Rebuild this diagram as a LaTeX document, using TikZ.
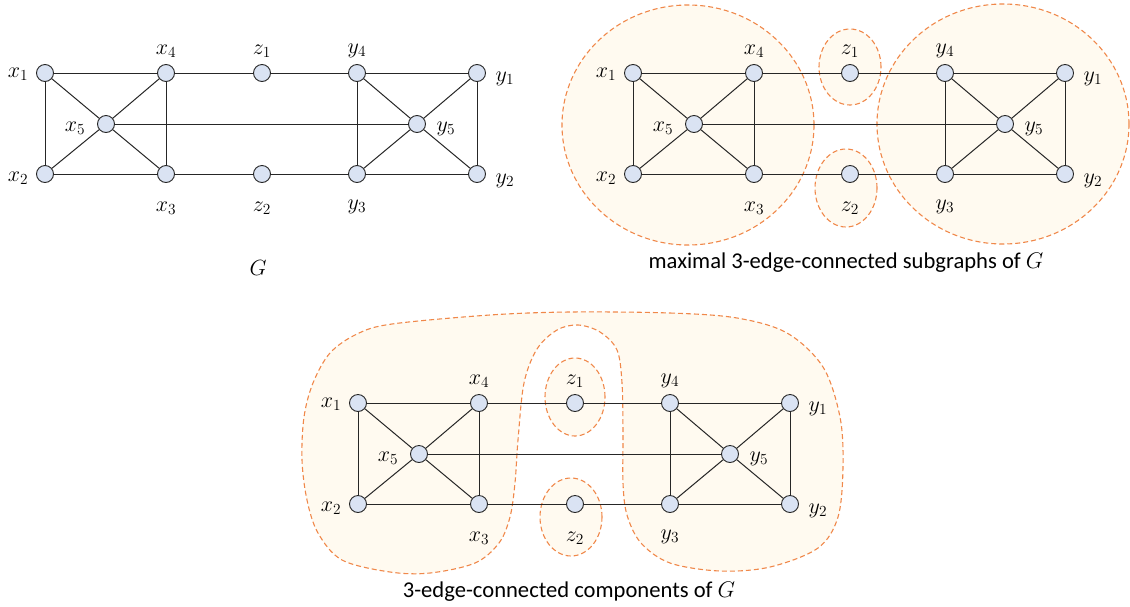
\RequirePackage{fix-cm}
\documentclass[tikz,border=0pt]{standalone}
\usepackage{fontspec}
\newfontfamily\capfont{Carlito}
\definecolor{nodefill}{HTML}{DAE3F3}
\definecolor{blobfill}{HTML}{FFFAF0}
\definecolor{blobline}{HTML}{F0884A}
\tikzset{
  vtx/.style={circle, draw=black!85, line width=0.9pt, fill=nodefill, minimum size=17pt, inner sep=0pt},
  lab/.style={inner sep=0pt, font=\fontsize{22}{26}\selectfont},
  edge/.style={line width=1pt, draw=black!85},
  blob/.style={fill=blobfill, draw=blobline, line width=1.1pt, dash pattern=on 5pt off 3pt},
  caption/.style={inner sep=0pt, font=\capfont\fontsize{22.6}{26}\selectfont}
}
\newcommand\drawG[3]{%
\begin{scope}[shift={(#1,#2)}]
  \node[vtx] (#3x1) at (45,73) {};
  \node[vtx] (#3x4) at (166,73) {};
  \node[vtx] (#3z1) at (262,73) {};
  \node[vtx] (#3y4) at (357,73) {};
  \node[vtx] (#3y1) at (477,73) {};
  \node[vtx] (#3x5) at (106,124) {};
  \node[vtx] (#3y5) at (417,124) {};
  \node[vtx] (#3x2) at (45,174) {};
  \node[vtx] (#3x3) at (166,174) {};
  \node[vtx] (#3z2) at (262,174) {};
  \node[vtx] (#3y3) at (357,174) {};
  \node[vtx] (#3y2) at (477,174) {};
  \node[lab] (#3lx1) at (18,74) {$x_1$};
  \node[lab] (#3lx4) at (166,51) {$x_4$};
  \node[lab] (#3lz1) at (262,51) {$z_1$};
  \node[lab] (#3ly4) at (357,51) {$y_4$};
  \node[lab] (#3ly1) at (505,79) {$y_1$};
  \node[lab] (#3lx5) at (75,128) {$x_5$};
  \node[lab] (#3ly5) at (446,129) {$y_5$};
  \node[lab] (#3lx2) at (18,178) {$x_2$};
  \node[lab] (#3lx3) at (166,208) {$x_3$};
  \node[lab] (#3lz2) at (262,208) {$z_2$};
  \node[lab] (#3ly3) at (357,207) {$y_3$};
  \node[lab] (#3ly2) at (505,181) {$y_2$};
  \draw[edge] (#3x1) -- (#3x4);
  \draw[edge] (#3x1) -- (#3x2);
  \draw[edge] (#3x1) -- (#3x5);
  \draw[edge] (#3x4) -- (#3x5);
  \draw[edge] (#3x4) -- (#3x3);
  \draw[edge] (#3x2) -- (#3x5);
  \draw[edge] (#3x2) -- (#3x3);
  \draw[edge] (#3x5) -- (#3x3);
  \draw[edge] (#3x4) -- (#3z1);
  \draw[edge] (#3z1) -- (#3y4);
  \draw[edge] (#3x5) -- (#3y5);
  \draw[edge] (#3x3) -- (#3z2);
  \draw[edge] (#3z2) -- (#3y3);
  \draw[edge] (#3y4) -- (#3y1);
  \draw[edge] (#3y4) -- (#3y3);
  \draw[edge] (#3y4) -- (#3y5);
  \draw[edge] (#3y1) -- (#3y5);
  \draw[edge] (#3y1) -- (#3y2);
  \draw[edge] (#3y5) -- (#3y3);
  \draw[edge] (#3y5) -- (#3y2);
  \draw[edge] (#3y3) -- (#3y2);
\end{scope}}
\begin{document}
\begin{tikzpicture}[x=1pt,y=-1pt]
\useasboundingbox (0,0) rectangle (1130,606);
% --- top right blobs
\draw[blob] (688,125) ellipse [x radius=126pt, y radius=120pt];
\draw[blob] (1003,124) ellipse [x radius=126pt, y radius=120pt];
\draw[blob] (850,67) ellipse [x radius=31pt, y radius=38pt];
\draw[blob] (846,188) ellipse [x radius=31pt, y radius=39pt];
% --- bottom blobs
\draw[blob] plot[smooth cycle, tension=0.55] coordinates {
 (570,312) (670,313) (737,318) (787,333) (823,367) (840,417) (843,467)
 (838,517) (818,548) (770,567) (720,571) (670,563) (641,543) (627,515)
 (623,483) (623,433) (622,383) (617,350) (600,332) (578,325) (557,330)
 (537,349) (524,383) (518,440) (515,483) (510,517) (499,543) (475,563)
 (430,573) (390,572) (342,560) (318,533) (307,500) (302,460) (304,417)
 (313,383) (330,353) (357,334) (392,324) (490,315)};
\draw[blob] (575,397) ellipse [x radius=30pt, y radius=39pt];
\draw[blob] (571,517) ellipse [x radius=31pt, y radius=39pt];
% --- graphs
\drawG{0}{0}{a}
\drawG{588}{0}{b}
\drawG{313}{330}{c}
% --- captions
\node[lab] (capA) at (258,268) {$G$};
\node[caption] (capB) at (846,263) {maximal 3-edge-connected subgraphs of $G$};
\node[caption] (capC) at (569,592) {3-edge-connected components of $G$};
\end{tikzpicture}
\end{document}
